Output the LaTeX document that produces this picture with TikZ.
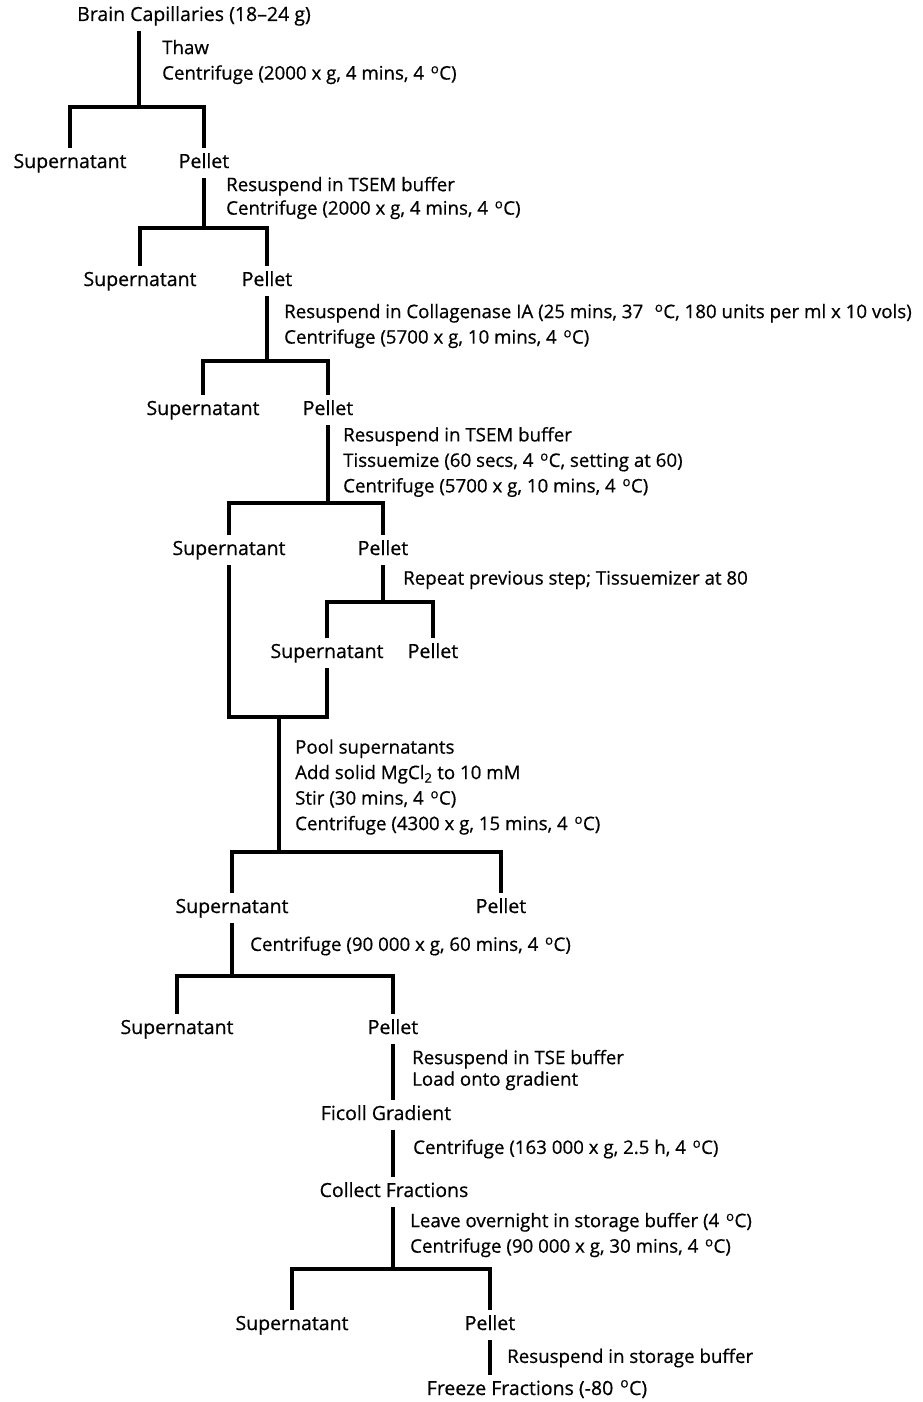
\documentclass[tikz,border=0pt]{standalone}
\usepackage{fontspec}
\setmainfont{Open Sans}[FakeBold=0.6]
\newcommand{\degc}{\kern2pt\textsuperscript{o}C}

\begin{document}
\begin{tikzpicture}[x=1pt,y=-1pt,line join=miter,
  frac/.style={font=\fontsize{19.5}{22}\selectfont,inner xsep=0pt,inner ysep=6pt,
    text height=14pt,text depth=4pt},
  stepnote/.style={anchor=west,align=left,inner sep=0pt,
    font=\fontsize{18.7}{25.5}\selectfont},
  bar/.style={line width=3.2pt}]
\useasboundingbox (0,0) rectangle (923,1402);

% fractions
\node[frac] (brain) at (194,16) {Brain Capillaries (18--24 g)};
\node[frac] (sup1) at (70,163) {Supernatant};
\node[frac] (pel1) at (204,163) {Pellet};
\node[frac] (sup2) at (140,281) {Supernatant};
\node[frac] (pel2) at (267,281) {Pellet};
\node[frac] (sup3) at (203,410) {Supernatant};
\node[frac] (pel3) at (328,410) {Pellet};
\node[frac] (sup4) at (229,550) {Supernatant};
\node[frac] (pel4) at (383,550) {Pellet};
\node[frac] (sup5) at (327,653) {Supernatant};
\node[frac] (pel5) at (433,653) {Pellet};
\node[frac] (sup6) at (232,908) {Supernatant};
\node[frac] (pel6) at (501,908) {Pellet};
\node[frac] (sup7) at (177,1029) {Supernatant};
\node[frac] (pel7) at (393,1029) {Pellet};
\node[frac] (ficoll) at (386,1115) {Ficoll Gradient};
\node[frac] (collect) at (394,1192) {Collect Fractions};
\node[frac] (sup8) at (292,1325) {Supernatant};
\node[frac] (pel8) at (490,1325) {Pellet};
\node[frac] (freeze) at (537,1390) {Freeze Fractions (-80 \degc)};

% junctions
\coordinate (j1) at (139,107);
\coordinate (j2) at (204,228);
\coordinate (j3) at (267,361);
\coordinate (j4) at (328,503);
\coordinate (j5) at (383,602);
\coordinate (pool) at (279,717);
\coordinate (j6) at (279,852);
\coordinate (j7) at (232,976);
\coordinate (j8) at (393,1269);

\draw[bar] (brain.south -| j1) -- (j1);
\draw[bar] (sup1.north) |- (j1) -| (pel1.north);
\draw[bar] (pel1.south) -- (j2);
\draw[bar] (sup2.north) |- (j2) -| (pel2.north);
\draw[bar] (pel2.south) -- (j3);
\draw[bar] (sup3.north) |- (j3) -| (pel3.north);
\draw[bar] (pel3.south) -- (j4);
\draw[bar] (sup4.north) |- (j4) -| (pel4.north);
\draw[bar] (pel4.south) -- (j5);
\draw[bar] (sup5.north) |- (j5) -| (pel5.north);
\draw[bar] (sup4.south) |- (pool) -| (sup5.south);
\draw[bar] (pool) -- (j6);
\draw[bar] (sup6.north) |- (j6) -| (pel6.north);
\draw[bar] (sup6.south) -- (j7);
\draw[bar] (sup7.north) |- (j7) -| (pel7.north);
\draw[bar] (pel7.south) -- (pel7.south |- ficoll.north);
\draw[bar] (ficoll.south -| pel7) -- (collect.north -| pel7);
\draw[bar] (collect.south -| j8) -- (j8);
\draw[bar] (sup8.north) |- (j8) -| (pel8.north);
\draw[bar] (pel8.south) -- (pel8.south |- freeze.north);

% steps
\node[stepnote] (s1) at (162,62) {Thaw\\Centrifuge (2000 x g, 4 mins, 4 \degc)};
\node[stepnote] (s2) at (226,198) {Resuspend in TSEM buffer\\[-2pt]Centrifuge (2000 x g, 4 mins, 4 \degc)};
\node[stepnote] (s3) at (284,326) {Resuspend in Collagenase IA (25 mins, 37 \ \degc, 180 units per ml x 10 vols)\\Centrifuge (5700 x g, 10 mins, 4 \degc)};
\node[stepnote] (s4) at (343,462) {Resuspend in TSEM buffer\\Tissuemize (60 secs, 4 \degc, setting at 60)\\Centrifuge (5700 x g, 10 mins, 4 \degc)};
\node[stepnote] (s5) at (403,580) {Repeat previous step; Tissuemizer at 80};
\node[stepnote] (s6) at (295,787) {Pool supernatants\\Add solid MgCl\textsubscript{2} to 10 mM\\Stir (30 mins, 4 \degc)\\Centrifuge (4300 x g, 15 mins, 4 \degc)};
\node[stepnote] (s7) at (250,946) {Centrifuge (90 000 x g, 60 mins, 4 \degc)};
\node[stepnote] (s8) at (412,1070) {Resuspend in TSE buffer\\[-4pt]Load onto gradient};
\node[stepnote] (s9) at (413,1149) {Centrifuge (163 000 x g, 2.5 h, 4 \degc)};
\node[stepnote] (s10) at (410,1235) {Leave overnight in storage buffer (4 \degc)\\Centrifuge (90 000 x g, 30 mins, 4 \degc)};
\node[stepnote] (s11) at (507,1358) {Resuspend in storage buffer};
\end{tikzpicture}
\end{document}
